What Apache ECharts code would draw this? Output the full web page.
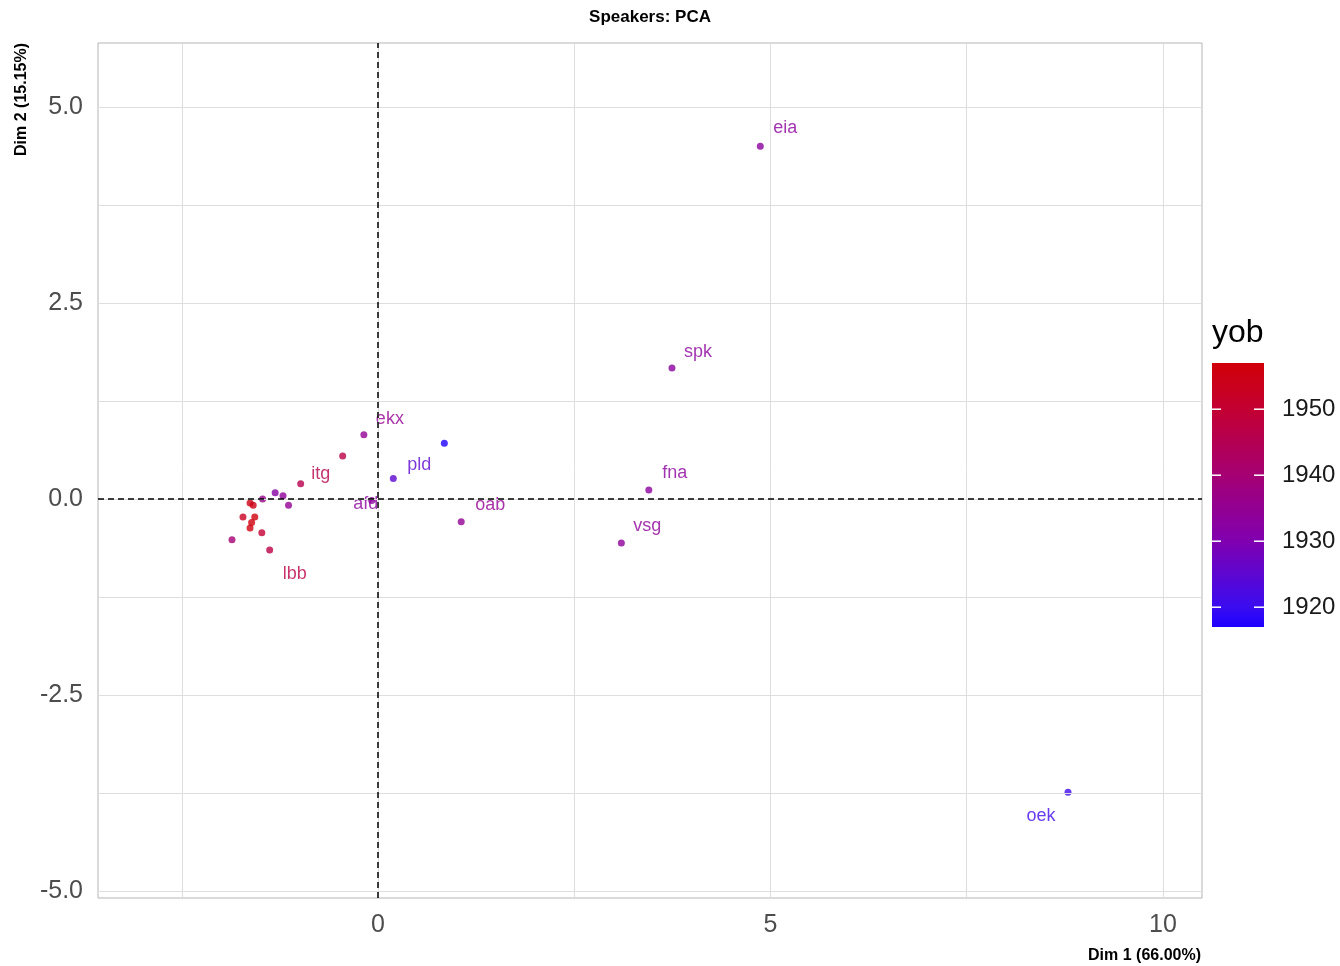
<!DOCTYPE html>
<html>
<head>
<meta charset="utf-8">
<script src="https://cdn.jsdelivr.net/npm/echarts@6/dist/echarts.min.js"></script>
<style>html,body{margin:0;padding:0;background:#fff}#c{width:1340px;height:966px}</style>
</head>
<body>
<div id="c"></div>
<script>
// ---- data ----
var names = ['eia','spk','fna','vsg','oek','pld','','ekx','','itg','afd','oab','','','','','','','','','','','','','lbb'];
var dim1  = [4.87, 3.745, 3.45, 3.10, 8.79, 0.195, 0.845, -0.18, -0.45, -0.985, -0.08, 1.06, -1.31, -1.21, -1.47, -1.14, -1.63, -1.59, -1.72, -1.57, -1.61, -1.63, -1.48, -1.86, -1.38];
var dim2  = [4.50, 1.67, 0.115, -0.56, -3.74, 0.26, 0.71, 0.82, 0.55, 0.195, -0.02, -0.29, 0.08, 0.04, 0.00, -0.08, -0.05, -0.08, -0.23, -0.23, -0.30, -0.37, -0.43, -0.52, -0.65];
var yob   = [1933, 1933, 1933, 1934, 1921, 1925, 1917, 1935, 1947, 1946, 1933, 1935, 1932, 1934, 1936, 1935, 1955, 1955, 1953, 1956, 1956, 1956, 1950, 1940, 1947];
var xTicks = [0, 5, 10];
var yTicks = [-5, -2.5, 0, 2.5, 5];
var xGrid = [-2.5, 0, 2.5, 5, 7.5, 10];
var yGrid = [-5, -3.75, -2.5, -1.25, 0, 1.25, 2.5, 3.75, 5];
var legendTicks = [1920, 1930, 1940, 1950];

// ---- styling / layout config ----
var labelOffsets = {eia:[25,-18], spk:[26,-16], fna:[26,-17], vsg:[26,-17], oek:[-27,24], pld:[26,-14], ekx:[26,-16], itg:[20,-10], afd:[-6,3], oab:[29,-17], lbb:[25,24]};
var colorStops = [[1917,[30,0,255]],[1920,[58,12,240]],[1930,[128,0,176]],[1940,[165,0,115]],[1950,[195,0,50]],[1957,[208,0,8]]];
var yobMin = 1917, yobMax = 1957;
function colorFor(v){
  if (v <= colorStops[0][0]) return rgb(colorStops[0][1]);
  for (var i=1;i<colorStops.length;i++){
    if (v <= colorStops[i][0]){
      var a=colorStops[i-1], b=colorStops[i], t=(v-a[0])/(b[0]-a[0]);
      return rgb([0,1,2].map(function(k){return a[1][k]+(b[1][k]-a[1][k])*t;}));
    }
  }
  return rgb(colorStops[colorStops.length-1][1]);
}
function rgb(c){return 'rgb('+c.map(function(x){return Math.round(x);}).join(',')+')';}

var points = dim1.map(function(x,i){
  var col = colorFor(yob[i]);
  var off = labelOffsets[names[i]];
  return {
    value:[x, dim2[i], yob[i]], name:names[i],
    itemStyle:{color:col},
    label:{show:!!names[i], formatter:names[i], color:col, position:'inside', offset: off || [0,0], fontSize:18, fontFamily:'Liberation Sans, Arial, sans-serif'}
  };
});

var gridLines = xGrid.map(function(v){return {xAxis:v};}).concat(yGrid.map(function(v){return {yAxis:v};}));

// colorbar
var cbLeft=1212, cbTop=363, cbW=52, cbH=264;
var grad = colorStops.slice().reverse().map(function(s){return {offset:(yobMax-s[0])/(yobMax-yobMin), color:rgb(s[1])};});
var graphics = [
  {type:'text', style:{x:650, y:17, text:'Speakers: PCA', font:'bold 17px "Liberation Sans", Arial, sans-serif', fill:'#000', align:'center', verticalAlign:'middle'}},
  {type:'text', style:{x:1201, y:956, text:'Dim 1 (66.00%)', font:'bold 16px "Liberation Sans", Arial, sans-serif', fill:'#000', align:'right', verticalAlign:'middle'}},
  {type:'text', x:22, y:43, rotation:Math.PI/2, style:{x:0, y:0, text:'Dim 2 (15.15%)', font:'bold 16px "Liberation Sans", Arial, sans-serif', fill:'#000', align:'right', verticalAlign:'middle'}},
  {type:'text', style:{x:1212, y:333, text:'yob', font:'32px "Liberation Sans", Arial, sans-serif', fill:'#000', align:'left', verticalAlign:'middle'}},
  {type:'rect', shape:{x:cbLeft, y:cbTop, width:cbW, height:cbH}, style:{fill:new echarts.graphic.LinearGradient(0,0,0,1,grad)}}
];
legendTicks.forEach(function(v){
  var y = cbTop + (yobMax - v)/(yobMax-yobMin)*cbH;
  graphics.push({type:'line', shape:{x1:cbLeft, y1:y, x2:cbLeft+9, y2:y}, style:{stroke:'#fff', lineWidth:1.5}});
  graphics.push({type:'line', shape:{x1:cbLeft+cbW-10, y1:y, x2:cbLeft+cbW, y2:y}, style:{stroke:'#fff', lineWidth:1.5}});
  graphics.push({type:'text', style:{x:1282, y:y, text:String(v), font:'24px "Liberation Sans", Arial, sans-serif', fill:'#1a1a1a', align:'left', verticalAlign:'middle'}});
});

var chart = echarts.init(document.getElementById('c'), null, {renderer:'canvas'});
chart.setOption({
  animation:false,
  backgroundColor:'#fff',
  grid:{left:98, right:138, top:43, bottom:68, show:true, borderColor:'#b5b5b5', borderWidth:1, backgroundColor:'transparent'},
  xAxis:{type:'value', min:-3.567, max:10.497,
    axisLine:{show:false}, splitLine:{show:false},
    axisTick:{show:true, customValues:xTicks, length:5, lineStyle:{color:'#b5b5b5'}},
    axisLabel:{customValues:xTicks, fontSize:25, color:'#4d4d4d', margin:15, fontFamily:'Liberation Sans, Arial, sans-serif', formatter:function(v){return String(v);}}},
  yAxis:{type:'value', min:-5.089, max:5.816,
    axisLine:{show:false}, splitLine:{show:false},
    axisTick:{show:true, customValues:yTicks, length:5, lineStyle:{color:'#b5b5b5'}},
    axisLabel:{customValues:yTicks, fontSize:25, color:'#4d4d4d', margin:15, fontFamily:'Liberation Sans, Arial, sans-serif', formatter:function(v){return v.toFixed(1);}}},
  graphic:graphics,
  series:[
    {type:'scatter', data:[], z:1, silent:true,
      markLine:{silent:true, symbol:'none', animation:false, label:{show:false}, lineStyle:{color:'#dedede', width:1, type:'solid'}, data:gridLines}},
    {type:'scatter', data:[], z:2, silent:true,
      markLine:{silent:true, symbol:'none', animation:false, label:{show:false}, lineStyle:{color:'#000', width:1.5, type:[6,4]}, data:[{xAxis:0},{yAxis:0}]}},
    {type:'scatter', z:3, symbolSize:7, data:points}
  ]
});
</script>
</body>
</html>
